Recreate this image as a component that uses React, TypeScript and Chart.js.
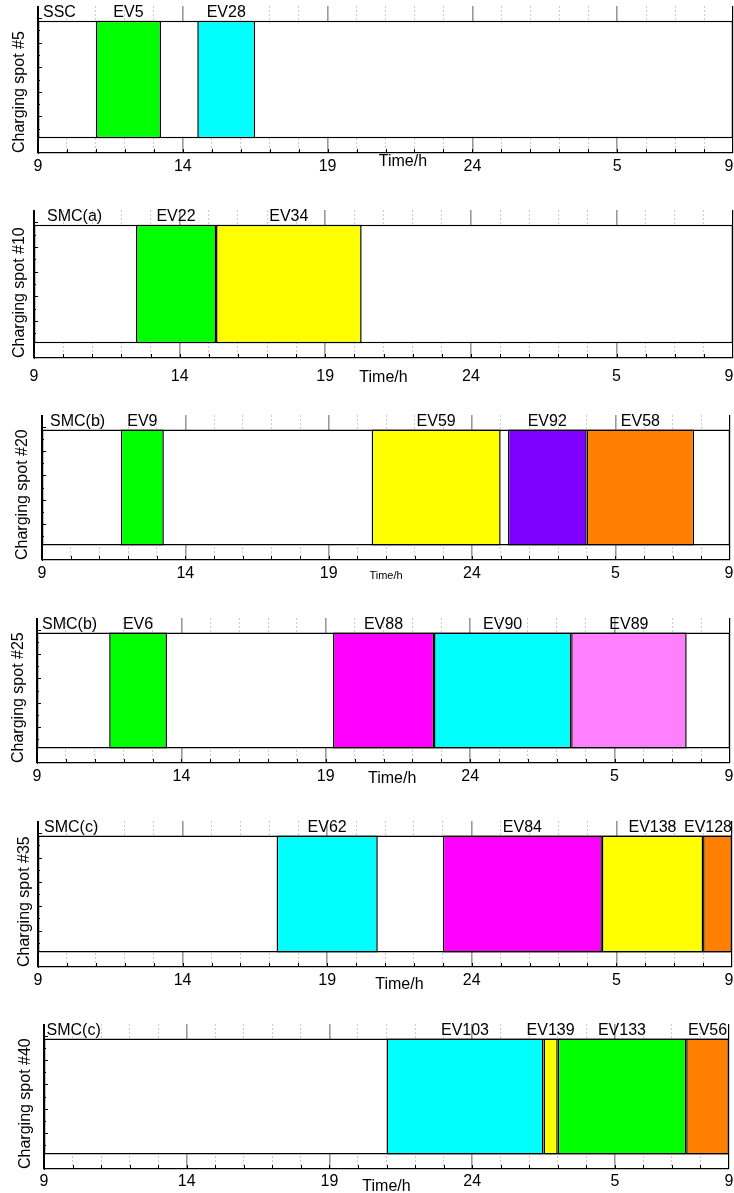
import React, { useEffect, useRef } from 'react';
import { Chart, registerables } from 'chart.js';

Chart.register(...registerables);

const FONT = '"Liberation Sans", Arial, Helvetica, sans-serif';
const PAGE_W = 734;
const PAGE_H = 1193;

// ---- axis data ----
const X_MIN = 9;
const X_MAX = 33;
const TICK_VALUES = [9, 14, 19, 24, 29, 33];
const TICK_LABELS = ['9', '14', '19', '24', '5', '9'];
const MINOR_HOURS = [10, 11, 12, 13, 15, 16, 17, 18, 20, 21, 22, 23, 25, 26, 27, 28, 30, 31, 32];
const HOUR_MARKS = [10, 11, 12, 13, 14, 15, 16, 17, 18, 19, 20, 21, 22, 23, 24, 25, 26, 27, 28, 29, 30, 31, 32];
const Y_MARKS = [0.5, 1, 1.5, 2, 2.5, 3, 3.5, 4, 4.5, 5];
const X_TITLE = 'Time/h';

// ---- panel data ----
const STRATEGY = ['SSC', 'SMC(a)', 'SMC(b)', 'SMC(b)', 'SMC(c)', 'SMC(c)'];
const SPOT = [
  'Charging spot #5',
  'Charging spot #10',
  'Charging spot #20',
  'Charging spot #25',
  'Charging spot #35',
  'Charging spot #40',
];
const EV_NAMES = [
  ['EV5', 'EV28'],
  ['EV22', 'EV34'],
  ['EV9', 'EV59', 'EV92', 'EV58'],
  ['EV6', 'EV88', 'EV90', 'EV89'],
  ['EV62', 'EV84', 'EV138', 'EV128'],
  ['EV103', 'EV139', 'EV133', 'EV56'],
];
const EV_START = [
  [11.0, 14.5],
  [12.5, 15.25],
  [11.75, 20.5, 25.25, 28.0],
  [11.5, 19.25, 22.75, 27.5],
  [17.25, 23.0, 28.5, 32.0],
  [21.0, 26.5, 27.0, 31.5],
];
const EV_END = [
  [13.25, 16.5],
  [15.25, 20.25],
  [13.25, 25.0, 28.0, 31.75],
  [13.5, 22.75, 27.5, 31.5],
  [20.75, 28.5, 32.0, 33.0],
  [26.5, 27.0, 31.5, 33.0],
];

// ---- styles ----
const GREEN = '#00ff00';
const CYAN = '#00ffff';
const YELLOW = '#ffff00';
const PURPLE = '#8000ff';
const ORANGE = '#ff8000';
const MAGENTA = '#ff00ff';
const PINK = '#ff80ff';
const EV_COLORS = [
  [GREEN, CYAN],
  [GREEN, YELLOW],
  [GREEN, YELLOW, PURPLE, ORANGE],
  [GREEN, MAGENTA, CYAN, PINK],
  [CYAN, MAGENTA, YELLOW, ORANGE],
  [CYAN, YELLOW, GREEN, ORANGE],
];
const EDGE = '#000000';
const BORDER_W = 1.5;

// ---- layout (pixel geometry of each panel on the page) ----
const LAYOUT = [
  { top: 6, bottom: 153, left: 38, right: 733, titleX: 21, nameDx: 5, tickDy: 14, timeAt: 21.6, timeDy: 9, timeSize: 16 },
  { top: 210, bottom: 358, left: 34, right: 733, titleX: 21, nameDx: 13, tickDy: 19, timeAt: 21.0, timeDy: 20, timeSize: 16 },
  { top: 415, bottom: 560, left: 42, right: 730, titleX: 24.5, nameDx: 8, tickDy: 14, timeAt: 21.0, timeDy: 16, timeSize: 11 },
  { top: 618, bottom: 763, left: 37, right: 730, titleX: 20.5, nameDx: 5, tickDy: 14, timeAt: 21.3, timeDy: 16, timeSize: 16 },
  { top: 821, bottom: 967, left: 38, right: 732, titleX: 26.3, nameDx: 6, tickDy: 14, timeAt: 21.5, timeDy: 18, timeSize: 16 },
  { top: 1024, bottom: 1169, left: 44, right: 729, titleX: 27, nameDx: 2.5, tickDy: 13, timeAt: 21.0, timeDy: 18, timeSize: 16 },
];
const PAD_TOP = 8;

function padBottom(i: number) {
  return Math.min(30, PAGE_H - LAYOUT[i].bottom);
}

function decorPlugin(i: number) {
  const L = LAYOUT[i];
  return {
    id: 'decor' + i,
    afterDraw(chart: any) {
      const { ctx, chartArea: a } = chart;
      const xs = chart.scales.x;
      const ys = chart.scales.y2;
      ctx.save();
      ctx.strokeStyle = '#000';
      ctx.lineWidth = 1;
      // inward ticks on the left axis
      for (const v of Y_MARKS) {
        const y = Math.round(ys.getPixelForValue(v)) + 0.5;
        const len = v % 1 === 0 ? 4 : 2;
        ctx.beginPath();
        ctx.moveTo(a.left, y);
        ctx.lineTo(a.left + len, y);
        ctx.stroke();
      }
      // inward ticks on the bottom axis
      for (const h of HOUR_MARKS) {
        const x = Math.round(xs.getPixelForValue(h)) + 0.5;
        ctx.beginPath();
        ctx.moveTo(x, a.bottom);
        ctx.lineTo(x, a.bottom - 4);
        ctx.stroke();
      }
      // tick labels
      ctx.fillStyle = '#000';
      ctx.font = `16px ${FONT}`;
      ctx.textBaseline = 'middle';
      ctx.textAlign = 'center';
      TICK_VALUES.forEach((v, k) => {
        const t = TICK_LABELS[k];
        const w = ctx.measureText(t).width;
        let cx = xs.getPixelForValue(v);
        cx = Math.min(cx, chart.width - 0.5 - w / 2);
        ctx.fillText(t, cx, a.bottom + L.tickDy);
      });
      // axis title
      ctx.font = `${L.timeSize}px ${FONT}`;
      ctx.fillText(X_TITLE, xs.getPixelForValue(L.timeAt), a.bottom + L.timeDy);
      // strategy + EV labels above the strip
      const n = chart.data.datasets.length;
      const bg = chart.getDatasetMeta(n - 1).data[0];
      const rectTop = bg.y - bg.height / 2;
      const base = rectTop - 3.5;
      ctx.font = `16px ${FONT}`;
      ctx.textBaseline = 'alphabetic';
      ctx.textAlign = 'left';
      ctx.fillText(STRATEGY[i], a.left + L.nameDx, base);
      const boxes: { t: string; l: number; w: number }[] = [];
      for (let k = 0; k < n - 1; k++) {
        const el = chart.getDatasetMeta(k).data[0];
        const c = (el.x + el.base) / 2;
        const t = chart.data.datasets[k].label;
        const w = ctx.measureText(t).width;
        boxes.push({ t, l: c - w / 2, w });
      }
      let limit = a.right;
      for (let k = boxes.length - 1; k >= 0; k--) {
        const b = boxes[k];
        if (b.l + b.w > limit) b.l = limit - b.w;
        limit = b.l - 2;
      }
      boxes.forEach((b) => ctx.fillText(b.t, b.l, base));
      ctx.restore();
    },
  };
}

function makeConfig(i: number): any {
  const L = LAYOUT[i];
  const isEdge = (c: any) => c.tick && (c.tick.value === X_MIN || c.tick.value === X_MAX);
  const datasets: any[] = EV_NAMES[i].map((name, k) => ({
    label: name,
    data: [[EV_START[i][k], EV_END[i][k]]],
    backgroundColor: EV_COLORS[i][k],
    borderColor: EDGE,
    borderWidth: BORDER_W,
    borderSkipped: false,
    grouped: false,
    categoryPercentage: 0.8,
    barPercentage: 1,
    xAxisID: 'x',
    yAxisID: 'y',
  }));
  datasets.push({
    label: 'strip',
    data: [[X_MIN, X_MAX]],
    backgroundColor: '#ffffff',
    borderColor: EDGE,
    borderWidth: BORDER_W,
    borderSkipped: false,
    grouped: false,
    categoryPercentage: 0.8,
    barPercentage: 1,
    xAxisID: 'x',
    yAxisID: 'y',
  });
  return {
    type: 'bar',
    data: { labels: [SPOT[i]], datasets },
    options: {
      indexAxis: 'y',
      responsive: false,
      animation: false,
      devicePixelRatio: 1,
      layout: { padding: { top: PAD_TOP, left: 0, right: PAGE_W - L.right, bottom: 0 } },
      plugins: { legend: { display: false }, tooltip: { enabled: false }, title: { display: false } },
      scales: {
        y: {
          type: 'category',
          position: 'left',
          grid: { display: false, drawTicks: false },
          ticks: { display: false },
          border: { display: true, color: '#000', width: 1 },
          title: {
            display: true,
            text: SPOT[i],
            align: 'start',
            color: '#000',
            font: { family: FONT, size: 16 },
            padding: { top: L.titleX - 11.1, bottom: 0 },
          },
          afterFit: (s: any) => {
            s.width = L.left;
          },
        },
        y2: { type: 'linear', min: 0, max: 5, display: false },
        x: {
          type: 'linear',
          position: 'bottom',
          min: X_MIN,
          max: X_MAX,
          afterBuildTicks: (ax: any) => {
            ax.ticks = TICK_VALUES.map((v) => ({ value: v }));
          },
          grid: {
            color: (c: any) => (isEdge(c) ? '#000' : '#9a9a9a'),
            lineWidth: (c: any) => (isEdge(c) ? 1.2 : 1.6),
            drawTicks: false,
          },
          ticks: { display: false },
          border: { display: true, color: '#000', width: 1.2 },
          afterFit: (s: any) => {
            s.height = padBottom(i);
          },
        },
        x2: {
          type: 'linear',
          position: 'bottom',
          min: X_MIN,
          max: X_MAX,
          afterBuildTicks: (ax: any) => {
            ax.ticks = MINOR_HOURS.map((v) => ({ value: v }));
          },
          grid: { color: '#cccccc', lineWidth: 1, drawTicks: false },
          ticks: { display: false },
          border: { display: false, dash: [2, 2] },
          afterFit: (s: any) => {
            s.height = 0;
          },
        },
      },
    },
    plugins: [decorPlugin(i)],
  };
}

function Panel({ index }: { index: number }) {
  const ref = useRef<HTMLCanvasElement | null>(null);
  const L = LAYOUT[index];
  const h = PAD_TOP + (L.bottom - L.top) + padBottom(index);
  useEffect(() => {
    if (!ref.current) return;
    const chart = new Chart(ref.current, makeConfig(index));
    return () => chart.destroy();
  }, [index]);
  return (
    <canvas
      ref={ref}
      width={PAGE_W}
      height={h}
      style={{ position: 'absolute', left: 0, top: L.top - PAD_TOP, width: PAGE_W, height: h, display: 'block' }}
    />
  );
}

export default function App() {
  return (
    <div
      style={{
        position: 'absolute',
        left: 0,
        top: 0,
        width: PAGE_W,
        height: PAGE_H,
        overflow: 'hidden',
        background: '#ffffff',
      }}
    >
      {LAYOUT.map((_, i) => (
        <Panel key={i} index={i} />
      ))}
    </div>
  );
}
